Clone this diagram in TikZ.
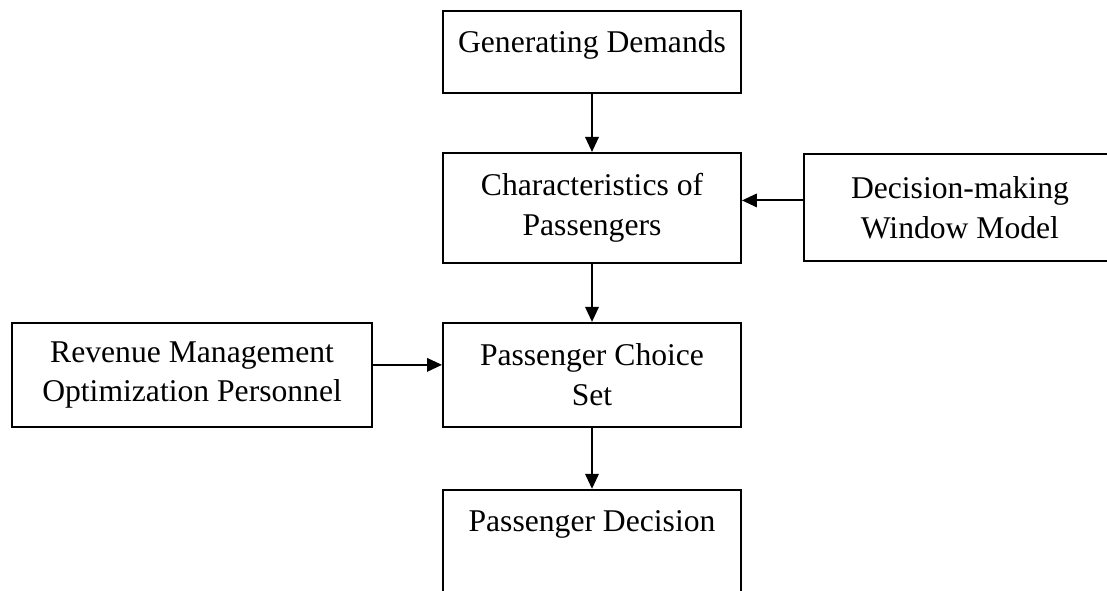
\documentclass[tikz,border=0pt]{standalone}
\usepackage{fontspec}
\setmainfont{Liberation Serif}
\usetikzlibrary{positioning,arrows.meta}

\begin{document}
\begin{tikzpicture}[boxnode/.style={rectangle, draw=black, line width=1.1pt, align=center, inner sep=0pt, font=\fontsize{18}{22.5}\selectfont},
        arrow/.style={-{Triangle[length=3mm,width=2.7mm]}, line width=1.1pt}]
        \useasboundingbox (0,0) rectangle (22.14,-11.8);
        \clip (0,0) rectangle (22.14,-11.8);
        %Nodes
        \node[boxnode, minimum width=5.96cm, minimum height=1.64cm, text height=0.45cm, text depth=0.45cm] (gen) at (11.84,-1.04) {Generating Demands};
        \node[boxnode, minimum width=5.96cm, minimum height=2.2cm]  (chars)  [below=1.16cm of gen]    {Characteristics of\\Passengers};
        \node[boxnode, minimum width=6.24cm, minimum height=2.14cm] (dmw)    [right=1.22cm of chars] {Decision-making\\Window Model};
        \node[boxnode, minimum width=5.96cm, minimum height=2.08cm] (choice) [below=1.16cm of chars]  {Passenger Choice\\Set};
        \node[boxnode, minimum width=7.2cm, minimum height=2.08cm]  (rmo)    [left=1.38cm of choice] {Revenue Management\\Optimization Personnel};
        \node[boxnode, minimum width=5.96cm, minimum height=2.08cm, text height=0.45cm, text depth=0.85cm] (dec) [below=1.22cm of choice] {Passenger Decision};
        \coordinate (p1) at ([yshift=1.5mm]dmw.west);
        \coordinate (p2) at ([yshift=2mm]rmo.east);
        %Lines
        \draw[arrow] (gen) -- (chars);
        \draw[arrow] (chars) -- (choice);
        \draw[arrow] (choice) -- (dec);
        \draw[arrow] (p1) -- (p1 -| chars.east);
        \draw[arrow] (p2) -- (p2 -| choice.west);
    \end{tikzpicture}
\end{document}
